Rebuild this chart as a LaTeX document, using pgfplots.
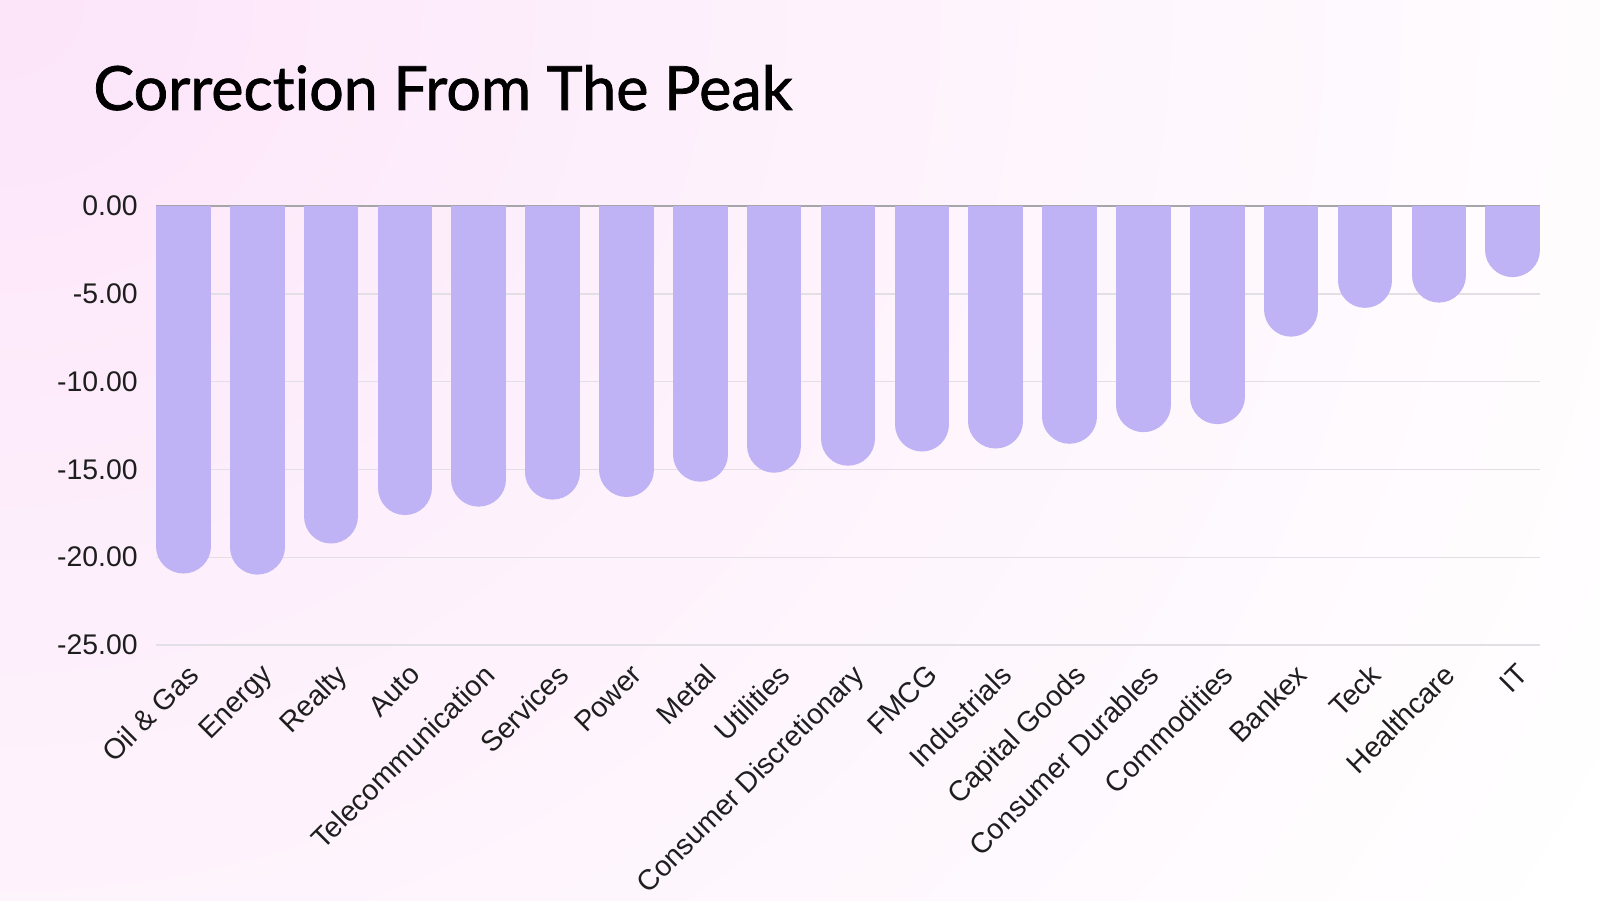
\documentclass[border=0pt]{standalone}
\usepackage{fontspec}
\setmainfont{Liberation Sans}
\newfontfamily\titlefont{Lato}[Ligatures=NoCommon, FakeBold=1.2]
\usepackage{pgfplots}
\pgfplotsset{compat=1.18}
\usepackage{pgfplotstable}
\definecolor{barc}{RGB}{192,179,245}
\definecolor{gridc}{RGB}{226,224,228}
\definecolor{zeroc}{RGB}{165,165,170}
\definecolor{labelc}{RGB}{30,30,30}
\definecolor{bgpink}{RGB}{252,228,249}
\pgfdeclareradialshading{bgshade}{\pgfpoint{0bp}{0bp}}{color(0bp)=(bgpink); color(9bp)=(bgpink!55!white); color(24bp)=(white); color(50bp)=(white)}

\pgfplotstableread{
idx val
0 -20.93
1 -20.99
2 -19.22
3 -17.60
4 -17.12
5 -16.72
6 -16.57
7 -15.70
8 -15.19
9 -14.79
10 -13.98
11 -13.81
12 -13.54
13 -12.88
14 -12.42
15 -7.44
16 -5.80
17 -5.50
18 -4.05
}\datatable

\begin{document}
\begin{tikzpicture}[x=1pt,y=1pt]
\useasboundingbox (0,0) rectangle (800,450);
\begin{scope}
\clip (0,0) rectangle (800,450);
\fill[white] (0,0) rectangle (800,450);
\shade[shading=bgshade] (0,450) ellipse (950 and 900);
\end{scope}
\node[anchor=base west, inner sep=0pt, font=\titlefont\fontsize{30.5}{36}\selectfont] at (46.5,395) {Correction From The Peak};
\begin{axis}[
  at={(78pt,127.5pt)}, anchor=south west,
  scale only axis, width=692pt, height=219.5pt,
  xmin=-0.37, xmax=18.37, ymin=-25, ymax=0,
  axis line style={draw=none},
  major tick length=0pt,
  xtick={0,...,18},
  xticklabels={Oil \& Gas, Energy, Realty, Auto, Telecommunication, Services, Power, Metal, Utilities, Consumer Discretionary, FMCG, Industrials, Capital Goods, Consumer Durables, Commodities, Bankex, Teck, Healthcare, IT},
  ytick={-25,-20,-15,-10,-5,0},
  yticklabels={-25.00,-20.00,-15.00,-10.00,-5.00,0.00},
  ymajorgrids,
  grid style={draw=gridc, line width=0.7pt},
  extra y ticks={0}, extra y tick labels={},
  extra y tick style={grid style={draw=zeroc, line width=0.7pt}},
  yticklabel style={font=\fontsize{14.2}{16}\selectfont, text=labelc, inner sep=0pt, xshift=-9pt},
  xticklabel style={font=\fontsize{14.3}{16}\selectfont, text=labelc, inner sep=0pt, xshift=1.5pt, yshift=-8.5pt, rotate=45, anchor=north east},
]
\addplot[quiver={u=0, v=\thisrow{val}}, mark=none, draw=barc, line width=27.33pt, line cap=round, shorten >=13.66pt, -] table[x=idx, y expr=0] {\datatable};
\end{axis}
\end{tikzpicture}
\end{document}
